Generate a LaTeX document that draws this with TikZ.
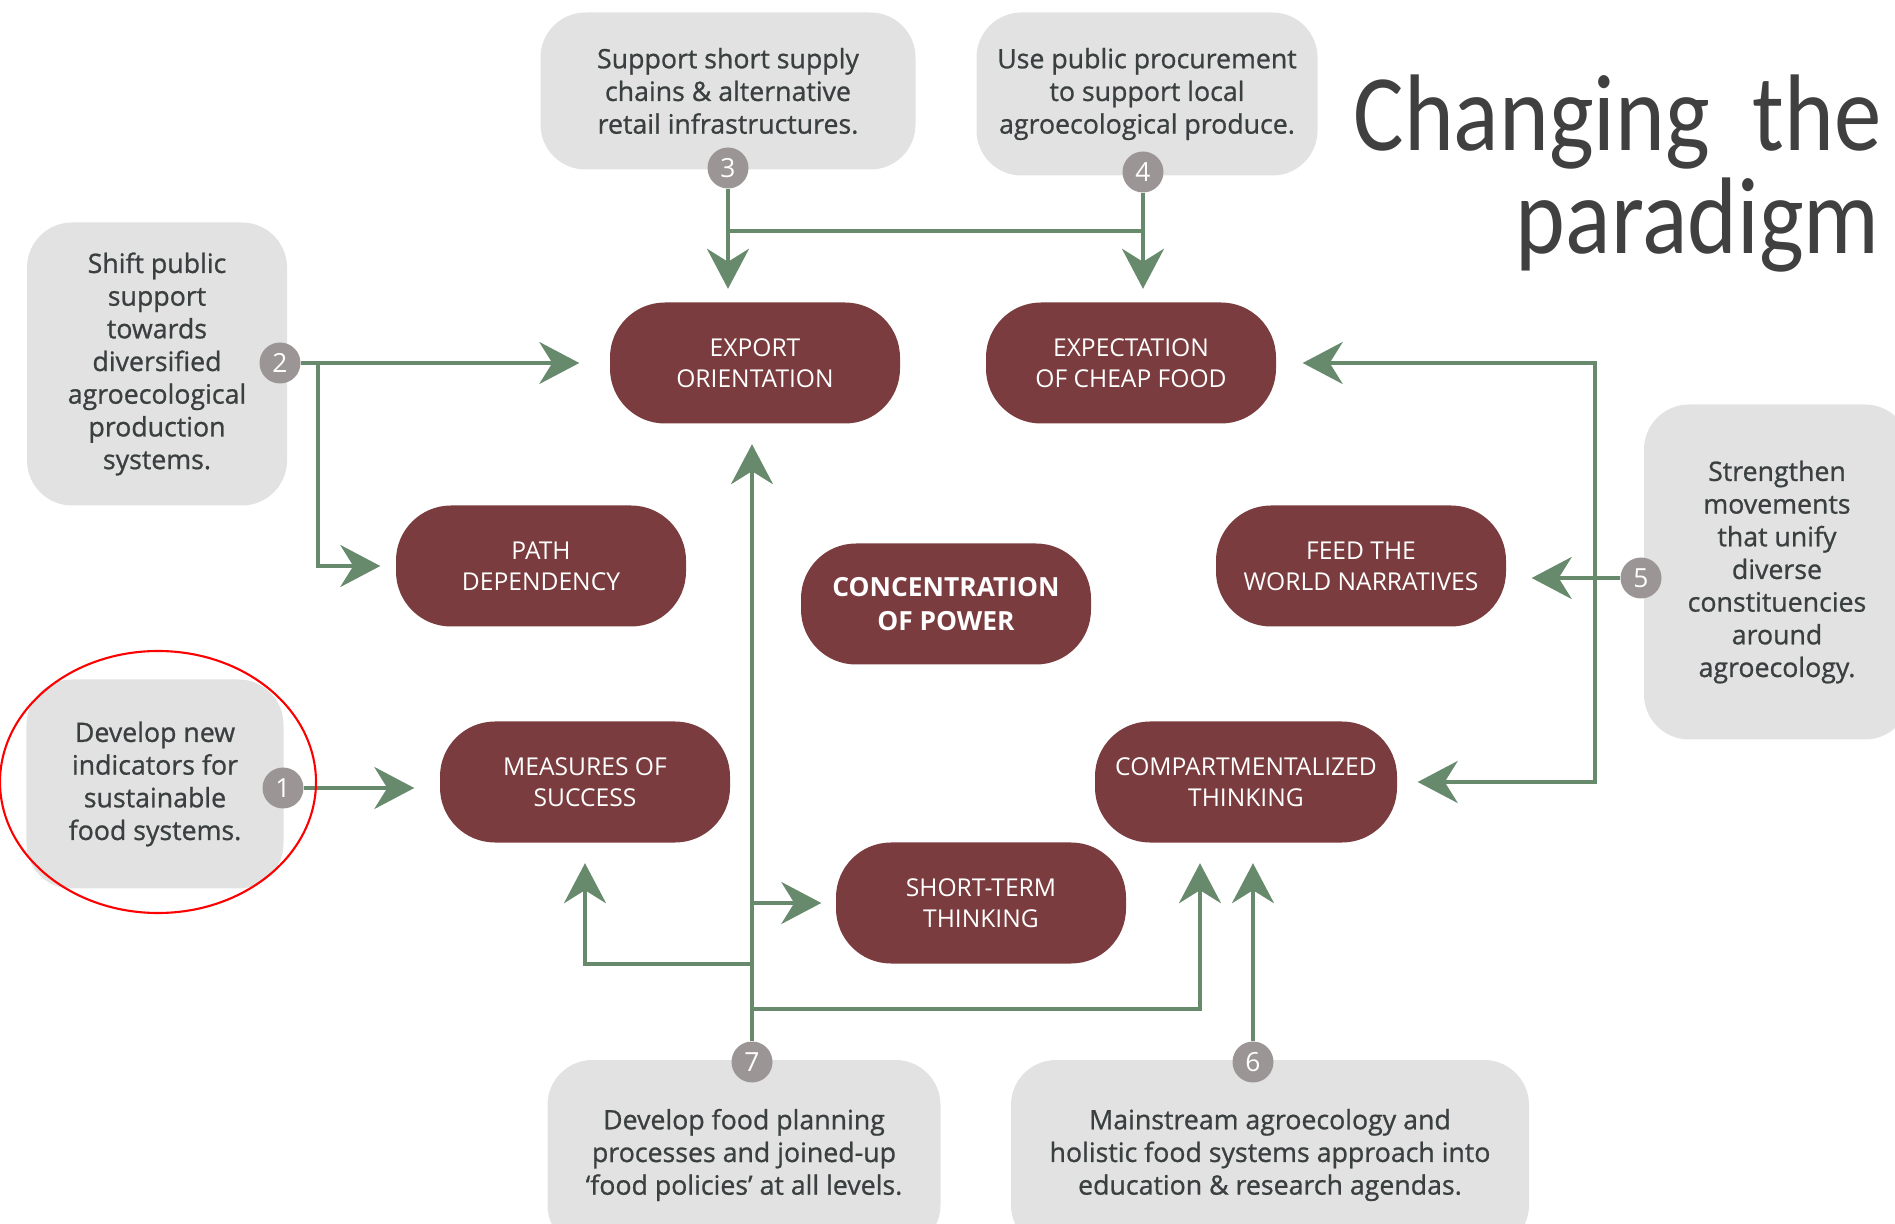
\documentclass[tikz,border=0pt]{standalone}
\usepackage{fontspec}
\setmainfont{Open Sans}
\newfontfamily\actfont[FakeBold=0.9]{Open Sans}
\newfontfamily\titlefont[FakeStretch=0.87]{Carlito}
\usetikzlibrary{arrows.meta, calc, shapes.geometric}
\definecolor{wine}{HTML}{7A3C3E}
\definecolor{leaf}{HTML}{688A6C}
\definecolor{paper}{HTML}{E2E2E2}
\definecolor{pebble}{HTML}{9C9595}
\definecolor{ink}{HTML}{3A3F3F}
\definecolor{slate}{HTML}{404040}

\begin{document}
\begin{tikzpicture}[
  cause/.style={fill=wine, text=white, rounded corners=5.5mm, minimum width=2.9cm, minimum height=1.21cm,
    inner sep=0pt, align=center, font=\fontsize{7}{8.9}\selectfont},
  action/.style={fill=paper, text=ink, rounded corners=4.5mm, inner sep=0pt, align=center,
    font=\actfont\fontsize{7.6}{9.3}\selectfont},
  badge/.style={circle, fill=pebble, text=white, minimum size=4.1mm, inner sep=0pt, font=\fontsize{7.5}{8}\selectfont},
  link/.style={draw=leaf, line width=1.1pt, -{Stealth[length=4mm,width=4.2mm,inset=1.3mm]}, shorten >=2mm},
  wire/.style={draw=leaf, line width=1.1pt},
  heading/.style={anchor=base east, text=slate, font=\titlefont\fontsize{31}{31}\selectfont}]
  \useasboundingbox (0,0) rectangle (18.95,-12.24);
  \clip (0,0) rectangle (18.95,-12.24);

  % actions
  \node[action, minimum width=3.75cm, minimum height=1.57cm] (a3) at (7.28,-0.91) {Support short supply\\chains \& alternative\\retail infrastructures.};
  \node[action, minimum width=3.41cm, minimum height=1.63cm] (a4) at (11.47,-0.94) {Use public procurement\\to support local\\agroecological produce.};
  \node[action, minimum width=2.6cm, minimum height=2.83cm] (a2) at (1.57,-3.64) {Shift public\\support\\towards\\diversified\\agroecological\\production\\systems.};
  \node[action, minimum width=2.57cm, minimum height=2.09cm] (a1) at (1.55,-7.84) {Develop new\\indicators for\\sustainable\\food systems.};
  \node[action, minimum width=2.66cm, minimum height=3.35cm] (a5) at (17.77,-5.72) {Strengthen\\movements\\that unify\\diverse\\constituencies\\around\\agroecology.};
  \node[action, minimum width=3.93cm, minimum height=1.9cm] (a7) at (7.44,-11.55) {Develop food planning\\processes and joined-up\\‘food policies’ at all levels.};
  \node[action, minimum width=5.18cm, minimum height=1.9cm] (a6) at (12.70,-11.55) {Mainstream agroecology and\\holistic food systems approach into\\education \& research agendas.};

  % causes
  \node[cause] (export) at (7.55,-3.63) {EXPORT\\ORIENTATION};
  \node[cause] (cheap) at (11.31,-3.63) {EXPECTATION\\OF CHEAP FOOD};
  \node[cause] (path) at (5.41,-5.66) {PATH\\DEPENDENCY};
  \node[cause, font=\fontsize{7.5}{9.6}\selectfont\bfseries] (power) at (9.46,-6.04) {CONCENTRATION\\OF POWER};
  \node[cause] (feed) at (13.61,-5.66) {FEED THE\\WORLD NARRATIVES};
  \node[cause] (success) at (5.85,-7.82) {MEASURES OF\\SUCCESS};
  \node[cause, minimum width=3.02cm] (silo) at (12.46,-7.82) {COMPARTMENTALIZED\\THINKING};
  \node[cause] (short) at (9.81,-9.03) {SHORT-TERM\\THINKING};

  \foreach \n/\x/\y in {1/2.83/-7.88, 2/2.80/-3.63, 3/7.28/-1.68, 4/11.43/-1.72, 5/16.41/-5.78, 6/12.53/-10.62, 7/7.52/-10.62}
    \node[badge] (b\n) at (\x,\y) {\n};

  % connectors
  \draw[link, shorten >=2.5mm] (b1) -- (b1 -| success.west);
  \coordinate (j2) at ($(b2)+(0.38,0)$);
  \draw[link, shorten >=3mm] (b2) -- (export);
  \draw[link, shorten >=1.5mm] (j2) |- (path);
  \coordinate (j34) at ($(b3)+(0,-0.63)$);
  \draw[link, shorten >=1.3mm] (b3) -- (b3 |- export.north);
  \draw[link, shorten >=1.3mm] (b4) -- (b4 |- cheap.north);
  \draw[wire] (j34) -- (j34 -| b4);
  \coordinate (j5) at ($(b5)+(-0.46,0)$);
  \draw[link, shorten >=2.5mm] (b5) -- (b5 -| feed.east);
  \draw[link, shorten >=2.6mm] (j5) |- (cheap);
  \draw[link] (j5) |- (silo);
  \draw[link] (b6) -- (b6 |- silo.south);
  \draw[link] (b7) -- (b7 |- export.south);
  \coordinate (j7s) at (b7 |- short);
  \draw[link, shorten >=1.4mm] (j7s) -- (short);
  \coordinate (j7m) at ($(b7)+(0,0.98)$);
  \draw[link] (j7m) -| (success);
  \coordinate (j7c) at ($(b7)+(0,0.53)$);
  \draw[link] (j7c) -| ([xshift=-4.6mm]silo.south);

  \node[ellipse, draw=red, line width=0.6pt, minimum width=3.16cm, minimum height=2.62cm, inner sep=0pt] (ring) at (1.58,-7.82) {};

  \node[heading] (title1) at (18.94,-1.51) {Changing\ \ the};
  \node[heading] (title2) at (18.92,-2.54) {paradigm};
\end{tikzpicture}
\end{document}
